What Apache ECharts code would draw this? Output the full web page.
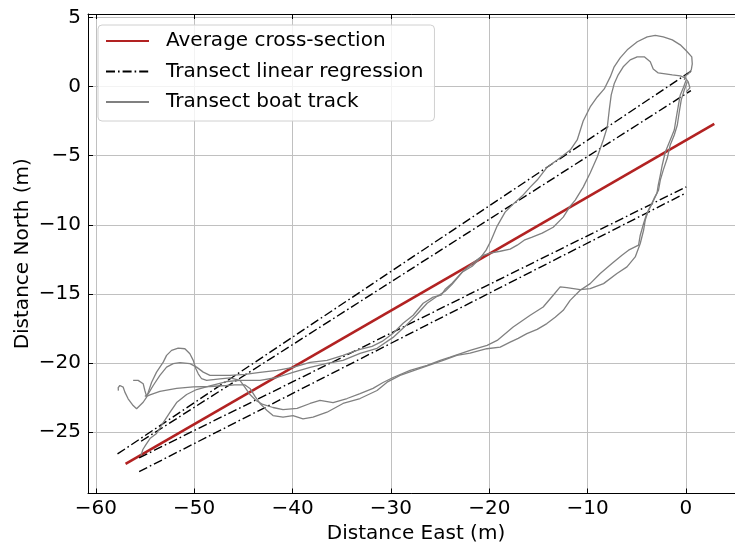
<!DOCTYPE html>
<html>
<head>
<meta charset="utf-8">
<script src="https://cdn.jsdelivr.net/npm/echarts@6/dist/echarts.min.js"></script>
<style>
html,body{margin:0;padding:0;background:#fff;}
#chart{width:735px;height:543px;}
</style>
</head>
<body>
<div id="chart"></div>
<script>
// ---- data (metres) ----
const averageSection = [[-56.98, -27.29], [2.88, -2.70]];

const regression1 = [[-57.80, -26.57], [0.61, 1.16]];
const regression2 = [[-55.40, -25.65], [0.50, -0.29]];
const regression3 = [[-55.60, -26.85], [0.03, -7.25]];
const regression4 = [[-55.60, -27.85], [0.03, -7.68]];

const track1 = [
  [-55.02,-22.41],[-54.68,-22.22],[-54.17,-21.62],[-53.49,-20.89],[-52.81,-20.29],[-52.14,-20.04],
  [-51.45,-19.97],[-50.43,-20.04],[-49.76,-20.29],[-49.08,-20.65],[-48.40,-20.89],[-47.38,-20.89],
  [-46.36,-20.89],[-44.84,-20.82],[-43.31,-20.67],[-41.58,-20.53],[-39.96,-20.31],[-38.22,-19.95],
  [-36.49,-19.80],[-34.87,-19.44],[-33.14,-19.01],[-31.92,-18.79],[-30.90,-18.43],[-29.78,-17.84],
  [-28.76,-17.12],[-27.74,-16.54],[-26.72,-15.67],[-25.71,-15.23],[-24.89,-15.09],[-24.49,-14.66],
  [-23.78,-14.22],[-22.76,-13.43],[-21.74,-12.99],[-20.93,-12.41],[-20.32,-11.83],[-19.81,-11.11],
  [-19.20,-10.09],[-18.39,-9.08],[-17.47,-8.43],[-16.66,-7.92],[-15.84,-7.27],[-15.13,-6.76],
  [-14.11,-5.82],[-13.09,-5.31],[-11.77,-4.59],[-11.06,-3.86],[-10.45,-2.49],[-9.74,-1.47],
  [-9.02,-0.75],[-8.31,-0.17],[-7.70,0.70],[-7.30,1.43],[-6.69,2.08],[-5.97,2.66],[-4.95,3.24],
  [-3.94,3.60],[-3.12,3.71],[-2.31,3.60],[-1.39,3.38],[-0.58,3.02],[0.03,2.59],[0.59,2.15],
  [0.64,1.64],[0.54,1.21],[0.23,0.92],[-0.07,0.78],[-0.17,0.49]
];

const track2 = [
  [-55.42,-26.69],[-55.22,-26.25],[-54.91,-25.89],[-54.50,-25.46],[-53.83,-25.09],[-53.15,-24.30],
  [-52.47,-23.57],[-51.79,-22.85],[-50.77,-22.27],[-49.76,-21.91],[-48.40,-21.65],[-46.70,-21.33],
  [-45.35,-21.25],[-43.31,-21.25],[-41.58,-21.04],[-39.96,-20.67],[-38.22,-20.31],
  [-36.49,-20.02],[-34.87,-19.80],[-33.14,-19.30],[-31.41,-18.93],[-29.78,-18.14],[-28.56,-17.34],
  [-27.44,-16.54],[-26.32,-15.67],[-25.30,-15.17],[-24.49,-14.80],[-23.78,-14.30],[-22.66,-13.35],
  [-21.44,-12.63],[-20.63,-12.20],[-19.91,-12.05],[-18.89,-11.91],[-17.88,-11.76],[-17.16,-11.47],
  [-16.45,-11.11],[-15.64,-10.89],[-14.62,-10.60],[-13.50,-10.17],[-12.48,-9.44],[-11.77,-8.64],
  [-11.26,-8.21],[-10.45,-7.27],[-9.74,-6.25],[-9.02,-5.09],[-8.41,-3.86],[-8.00,-2.92],
  [-7.80,-1.69],[-7.60,-0.60],[-7.30,0.20],[-6.89,0.85],[-6.38,1.43],[-5.67,1.93],[-4.96,2.15],
  [-4.24,2.15],[-3.63,1.79],[-3.33,1.28],[-2.82,0.99],[-2.10,0.92],[-1.39,0.85],[-0.58,0.78],
  [-0.07,0.63],[0.23,0.34],[0.40,-0.09],[0.03,-0.38]
];

const track3 = [
  [0.03,0.49],[-0.27,-0.09],[-0.58,-0.60],[-0.78,-1.40],[-0.99,-2.27],[-1.19,-3.14],[-1.60,-3.86],
  [-2.10,-4.73],[-2.41,-5.67],[-2.61,-6.40],[-2.82,-7.12],[-2.95,-7.72],[-3.43,-8.43],[-3.81,-8.93],
  [-4.14,-9.66],[-4.31,-10.39],[-4.65,-11.35],[-5.16,-12.32],[-6.00,-13.04],[-7.02,-13.52],
  [-8.38,-14.25],[-9.74,-14.61],[-10.76,-14.68],[-12.11,-14.54],[-12.79,-14.49],[-13.50,-15.09],
  [-14.52,-15.94],[-15.84,-16.54],[-17.57,-17.39],[-19.20,-18.36],[-20.22,-18.72],[-21.95,-19.08],
  [-23.98,-19.57],[-24.99,-19.80],[-26.32,-20.17],[-28.05,-20.53],[-29.78,-21.04],[-30.80,-21.40],
  [-31.82,-21.83],[-33.14,-22.20],[-34.46,-22.56],[-35.88,-22.85],[-37.21,-22.70],[-38.22,-22.92],
  [-39.54,-23.28],[-40.97,-23.36],[-41.99,-23.21],[-43.01,-22.99],[-43.72,-22.70],[-44.33,-22.27],
  [-44.84,-21.76],[-45.35,-21.25],[-46.36,-21.07],[-47.38,-21.14],[-48.74,-21.25],[-49.25,-21.13],
  [-49.59,-20.77],[-49.83,-20.41],[-50.10,-19.80],[-50.44,-19.32],[-50.95,-18.96],[-51.63,-18.91],
  [-52.30,-19.08],[-52.81,-19.44],[-53.15,-19.93],[-53.83,-20.65],[-54.33,-21.38],[-54.84,-22.46],
  [-55.19,-22.83],[-55.86,-23.30],[-56.21,-23.07],[-56.72,-22.58],[-57.05,-22.10],[-57.22,-21.74],
  [-57.56,-21.62],[-57.73,-21.78],[-57.71,-21.99]
];

const track4 = [
  [0.13,0.34],[-0.17,-0.24],[-0.48,-0.96],[-0.68,-1.83],[-0.88,-2.78],[-1.19,-3.50],[-1.60,-4.22],
  [-1.90,-5.17],[-2.31,-6.04],[-2.61,-6.76],[-2.79,-7.49],[-3.23,-8.07],[-3.63,-8.70],[-4.04,-9.30],
  [-4.31,-9.90],[-4.65,-10.75],[-4.82,-11.47],[-5.84,-11.83],[-6.51,-12.20],[-7.53,-12.80],
  [-8.72,-13.52],[-9.74,-14.25],[-10.76,-14.73],[-11.78,-15.46],[-12.48,-16.18],[-13.30,-16.69],
  [-14.14,-17.14],[-15.13,-17.56],[-16.18,-17.87],[-17.06,-18.21],[-17.88,-18.48],[-18.89,-18.84],
  [-20.25,-18.96],[-21.95,-19.28],[-23.30,-19.44],[-24.69,-19.80],[-27.04,-20.38],[-29.07,-20.89],
  [-30.39,-21.38],[-31.41,-21.98],[-33.14,-22.56],[-34.87,-22.92],[-36.50,-23.55],[-37.92,-23.91],
  [-38.94,-24.03],[-39.96,-23.79],[-40.97,-23.91],[-41.99,-23.79],[-42.60,-23.43],[-43.31,-22.92],
  [-43.82,-22.41],[-44.33,-21.83],[-44.84,-21.58],[-45.86,-21.58],[-46.70,-21.62],[-48.40,-21.69],
  [-50.10,-21.72],[-51.79,-21.83],[-53.49,-22.05],[-54.50,-22.30],[-54.84,-22.41],[-55.02,-21.98],
  [-55.19,-21.49],[-55.70,-21.25],[-56.21,-21.25]
];

const regressions = [regression1, regression2, regression3, regression4];
const tracks = [track1, track2, track3, track4];

const xRange = [-60.8, 5.9];
const yRange = [-29.43, 5.25];

const nameAvg = 'Average cross-section';
const nameReg = 'Transect linear regression';
const nameTrack = 'Transect boat track';

// ---- chart ----
const FONT = 'DejaVu Sans';
const fmt = v => (v < 0 ? '\u2212' + Math.abs(v) : String(v));

const series = [];
series.push({
  name: nameAvg, type: 'line', data: averageSection, symbol: 'none',
  lineStyle: {color: '#b22222', width: 2.6}, itemStyle: {color: '#b22222'}
});
regressions.forEach(r => series.push({
  name: nameReg, type: 'line', data: r, symbol: 'none',
  lineStyle: {color: '#000', width: 1.4, type: [9, 3, 1.6, 3]}, itemStyle: {color: '#000'}
}));
tracks.forEach(t => series.push({
  name: nameTrack, type: 'line', data: t, symbol: 'none',
  lineStyle: {color: '#808080', width: 1.3}, itemStyle: {color: '#808080'}
}));

const axisCommon = {
  type: 'value',
  axisLine: {show: true, onZero: false, lineStyle: {color: '#000', width: 1}},
  axisTick: {show: true, inside: true, length: 5, lineStyle: {color: '#000', width: 1}},
  splitLine: {show: true, lineStyle: {color: '#c0c0c0', width: 1}},
  axisLabel: {color: '#000', fontFamily: FONT, fontSize: 20, formatter: fmt,
              showMinLabel: false, showMaxLabel: false},
  nameMoveOverlap: false,
  nameTextStyle: {color: '#000', fontFamily: FONT, fontSize: 20}
};

const chart = echarts.init(document.getElementById('chart'), null, {renderer: 'canvas'});
chart.setOption({
  animation: false,
  backgroundColor: '#fff',
  grid: {left: 88, top: 14, width: 656, height: 479.5, containLabel: false, outerBoundsMode: 'none'},
  xAxis: [
    Object.assign({}, axisCommon, {
      min: xRange[0], max: xRange[1], minInterval: 10, maxInterval: 10,
      name: 'Distance East (m)', nameLocation: 'middle', nameGap: 30,
      axisLabel: Object.assign({}, axisCommon.axisLabel, {margin: 5})
    }),
    Object.assign({}, axisCommon, {
      position: 'top', min: xRange[0], max: xRange[1], minInterval: 10, maxInterval: 10,
      axisLabel: {show: false}, splitLine: {show: false}
    })
  ],
  yAxis: [
    Object.assign({}, axisCommon, {
      min: yRange[0], max: yRange[1], minInterval: 5, maxInterval: 5,
      name: 'Distance North (m)', nameLocation: 'middle', nameGap: 55, nameRotate: 90,
      axisLabel: Object.assign({}, axisCommon.axisLabel, {margin: 7})
    })
  ],
  legend: {
    orient: 'vertical', left: 98, top: 25,
    data: [nameAvg, nameReg, nameTrack],
    itemWidth: 43, itemHeight: 14, itemGap: 10.5,
    padding: [6, 11, 9, 7],
    itemStyle: {opacity: 0},
    backgroundColor: 'rgba(255,255,255,0.8)',
    borderColor: '#d0d0d0', borderWidth: 1, borderRadius: 4,
    textStyle: {color: '#000', fontFamily: FONT, fontSize: 20, lineHeight: 20, padding: [0, 0, 0, 12]}
  },
  series: series
});
</script>
</body>
</html>
